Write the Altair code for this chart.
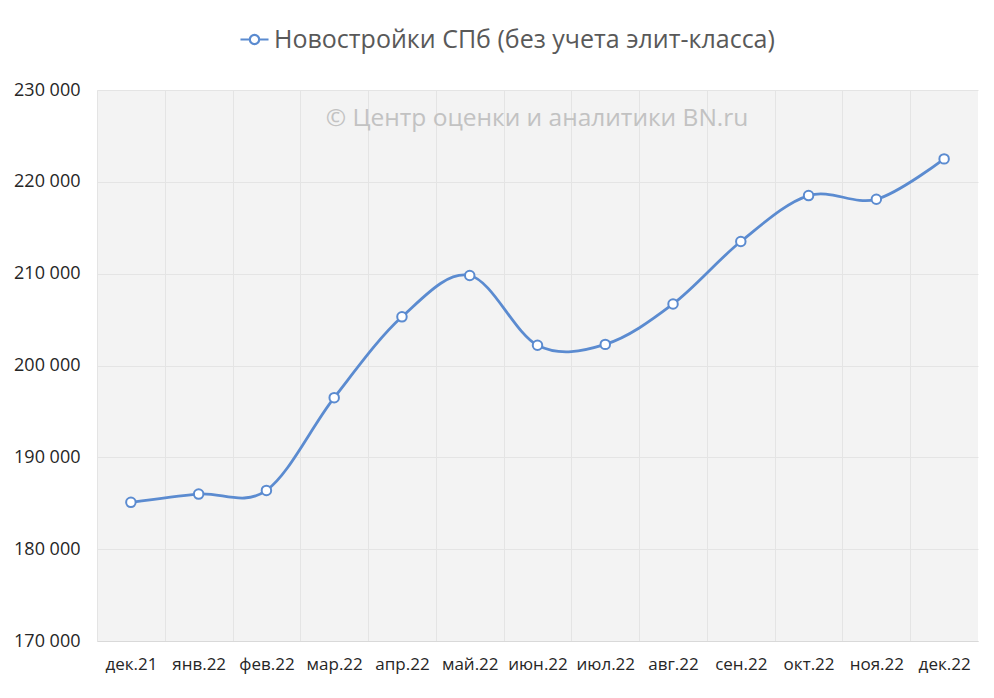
import altair as alt
import pandas as pd

months = ["дек.21", "янв.22", "фев.22", "мар.22", "апр.22", "май.22", "июн.22",
          "июл.22", "авг.22", "сен.22", "окт.22", "ноя.22", "дек.22"]
values = [185100, 186000, 186400, 196500, 205300, 209800, 202200,
          202300, 206700, 213500, 218500, 218100, 222500]
series_name = "Новостройки СПб (без учета элит-класса)"
watermark = ["© Центр оценки и аналитики BN.ru"]
y_ticks = [170000, 180000, 190000, 200000, 210000, 220000, 230000]

BLUE = "#5B8BD0"

df = pd.DataFrame({
    "idx": list(range(len(months))),
    "month": months,
    "value": values,
    "series": series_name,
})

month_arr = "[" + ",".join("'" + m + "'" for m in months) + "]"
x_bounds = [i - 0.5 for i in range(len(months))]

x_enc = alt.X(
    "idx:Q",
    scale=alt.Scale(domain=[-0.5, len(months) - 0.5], nice=False, zero=False),
    axis=alt.Axis(
        title=None,
        values=x_bounds,
        labelExpr=f"{month_arr}[datum.value + 0.5]",
        labelOffset=881 / len(months) / 2,
        labelPadding=15,
        labelFont="Open Sans",
        labelFontSize=17,
        labelColor="#262626",
        labelFlush=False,
        labelOverlap=False,
        ticks=False,
        domain=True,
        domainColor="#d9d9d9",
        grid=True,
        gridColor="#e4e4e4",
    ),
)

y_enc = alt.Y(
    "value:Q",
    scale=alt.Scale(domain=[170000, 230000], nice=False, zero=False),
    axis=alt.Axis(
        title=None,
        values=y_ticks,
        labelExpr="replace(format(datum.value, ','), ',', ' ')",
        labelPadding=17,
        labelFont="Open Sans",
        labelFontSize=18,
        labelColor="#262626",
        ticks=False,
        domain=False,
        grid=True,
        gridColor="#e4e4e4",
    ),
)

line = alt.Chart(df).mark_line(
    interpolate="cardinal", strokeWidth=2.8
).encode(
    x=x_enc,
    y=y_enc,
    color=alt.Color(
        "series:N",
        scale=alt.Scale(domain=[series_name], range=[BLUE]),
        legend=alt.Legend(
            title=None,
            orient="none",
            legendX=145,
            legendY=-63,
            symbolType="M-1.5,0L-0.5,0M0.5,0L1.5,0M-0.5,0A0.5,0.5,0,1,0,0.5,0A0.5,0.5,0,1,0,-0.5,0",
            symbolSize=350,
            symbolStrokeWidth=2.2,
            symbolStrokeColor=BLUE,
            symbolFillColor="white",
            labelFont="Open Sans",
            labelFontSize=25,
            labelColor="#595959",
            labelOffset=7,
            labelLimit=900,
        ),
    ),
)

points = alt.Chart(df).mark_point(
    shape="circle", size=90, filled=True, fill="white", stroke=BLUE,
    strokeWidth=2, opacity=1
).encode(x=x_enc, y=y_enc)

wm = alt.Chart(pd.DataFrame({"t": watermark})).mark_text(
    font="Open Sans", fontSize=24.5, color="#c2c2c2", align="center", baseline="middle"
).encode(text="t:N", x=alt.value(440), y=alt.value(29))

chart = alt.layer(line, points, wm).properties(
    width=881,
    height=551,
    autosize=alt.AutoSizeParams(type="none"),
    padding={"left": 89, "top": 82, "right": 8, "bottom": 49},
    background="white",
).configure_view(stroke=None, fill="#f3f3f3")

chart.save("out.html", embed_options={"renderer": "svg", "actions": False})
